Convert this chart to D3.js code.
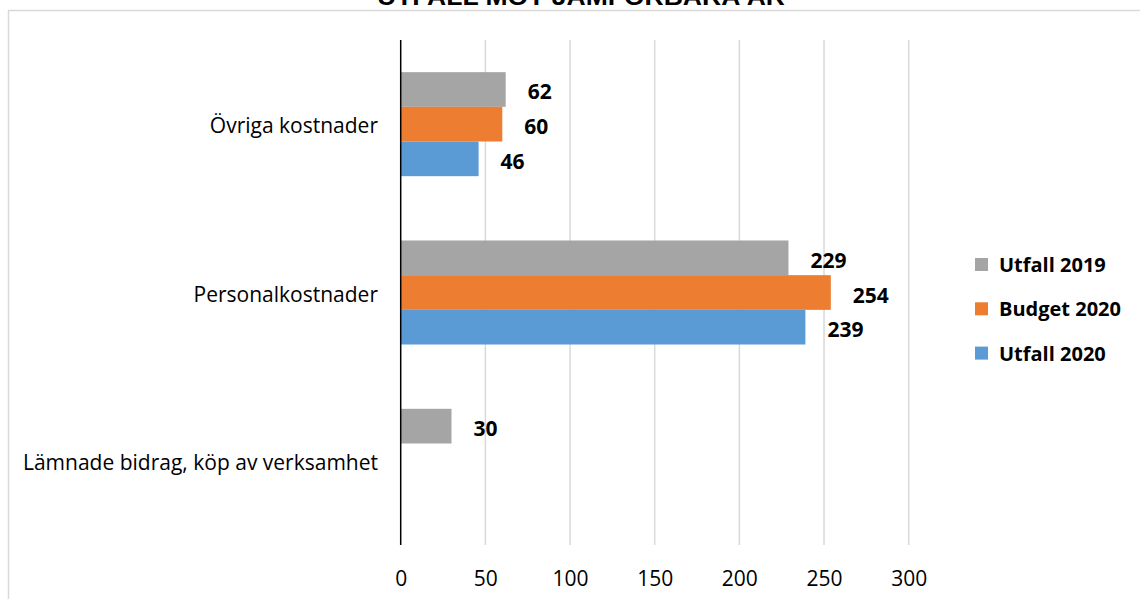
<!DOCTYPE html>
<html>
<head>
<meta charset="utf-8">
<script src="https://cdn.jsdelivr.net/npm/d3@7"></script>
<style>
  body { margin: 0; background: #fff; }
  svg { display: block; }
</style>
</head>
<body>
<svg></svg>
<script>
// -------------------------------------------------------------
const width = 1140;
const height = 599;

const categories = ['Övriga kostnader', 'Personalkostnader', 'Lämnade bidrag, köp av verksamhet'];
const series     = ['Utfall 2019', 'Budget 2020', 'Utfall 2020'];
const colors     = ['#a5a5a5', '#ed7d31', '#5b9bd5'];

const utfall2019 = [62, 229, 30];
const budget2020 = [60, 254, null];
const utfall2020 = [46, 239, null];

const xTicks = [0, 50, 100, 150, 200, 250, 300];
const title  = 'UTFALL MOT JÄMFÖRBARA ÅR';

const values = [utfall2019, budget2020, utfall2020];

const svg = d3.select('svg').attr('width', width).attr('height', height);

// frame + title (cut off at the top like the original)
svg.append('rect')
  .attr('x', 8.5).attr('y', 10.5)
  .attr('width', 1200).attr('height', 700)
  .style('fill', 'none')
  .style('stroke', '#d9d9d9')
  .style('stroke-width', 1.5);

svg.append('text')
  .attr('x', 581).attr('y', 4.5)
  .attr('text-anchor', 'middle')
  .attr('textLength', 408)
  .attr('lengthAdjust', 'spacingAndGlyphs')
  .style('font-family', 'Liberation Sans, Arial, sans-serif')
  .style('font-weight', 'bold')
  .style('font-size', '24px')
  .text(title);

// -------------------------------------------------------------
const x = d3.scaleLinear().domain([0, 300]).range([400.7, 908.7]);

const y = d3.scaleBand()
  .domain(categories)
  .range([40, 545])
  .paddingInner(0.382)
  .paddingOuter(0.191);

const ySub = d3.scaleBand()
  .domain(series)
  .range([0, y.bandwidth()]);

// gridlines
svg.append('g')
  .selectAll('line')
  .data(xTicks.slice(1))
  .enter().append('line')
  .attr('x1', d => x(d)).attr('x2', d => x(d))
  .attr('y1', 40).attr('y2', 545)
  .style('stroke', '#d9d9d9')
  .style('stroke-width', 1.5);

// bars
const rows = [];
categories.forEach((c, i) => {
  series.forEach((s, j) => {
    rows.push({ cat: c, ser: s, val: values[j][i], color: colors[j] });
  });
});
const data = rows.filter(d => d.val != null);

svg.append('g')
  .selectAll('rect')
  .data(data)
  .enter().append('rect')
  .attr('x', x(0))
  .attr('y', d => y(d.cat) + ySub(d.ser))
  .attr('width', d => x(d.val) - x(0))
  .attr('height', ySub.bandwidth())
  .style('fill', d => d.color);

// data labels
svg.append('g')
  .selectAll('text')
  .data(data)
  .enter().append('text')
  .attr('x', d => x(d.val) + 22)
  .attr('y', d => y(d.cat) + ySub(d.ser) + ySub.bandwidth() / 2 + 2)
  .attr('dominant-baseline', 'central')
  .style('font-family', 'Open Sans, sans-serif')
  .style('font-weight', 'bold')
  .style('font-size', '21px')
  .style('fill', '#000')
  .text(d => d.val);

// zero axis line
svg.append('line')
  .attr('x1', x(0)).attr('x2', x(0))
  .attr('y1', 40).attr('y2', 545)
  .style('stroke', '#000')
  .style('stroke-width', 1.5);

// x tick labels
const xAxis = svg.append('g')
  .attr('transform', 'translate(0,560)')
  .call(d3.axisBottom(x).tickValues(xTicks).tickSize(0).tickPadding(0));
xAxis.select('.domain').remove();
xAxis.selectAll('text')
  .attr('y', 18)
  .attr('dy', 0)
  .attr('dominant-baseline', 'central')
  .style('font-family', 'Open Sans, sans-serif')
  .style('font-size', '21px')
  .style('fill', '#000');

// category labels
const yAxis = svg.append('g')
  .attr('transform', 'translate(378,0)')
  .call(d3.axisLeft(y).tickSize(0).tickPadding(0));
yAxis.select('.domain').remove();
yAxis.selectAll('text')
  .attr('dy', 0)
  .attr('y', 1)
  .attr('dominant-baseline', 'central')
  .style('font-family', 'Open Sans, sans-serif')
  .style('font-size', '21px')
  .style('fill', '#000');

// legend
const legend = svg.append('g')
  .selectAll('g')
  .data(series)
  .enter().append('g')
  .attr('transform', (d, i) => `translate(975,${264.5 + i * 44.3})`);

legend.append('rect')
  .attr('x', 0).attr('y', -6.5)
  .attr('width', 13).attr('height', 13)
  .style('fill', (d, i) => colors[i]);

legend.append('text')
  .attr('x', 24).attr('y', 0)
  .attr('dominant-baseline', 'central')
  .style('font-family', 'Open Sans, sans-serif')
  .style('font-weight', 'bold')
  .style('font-size', '20px')
  .style('fill', '#000')
  .text(d => d);
</script>
</body>
</html>
